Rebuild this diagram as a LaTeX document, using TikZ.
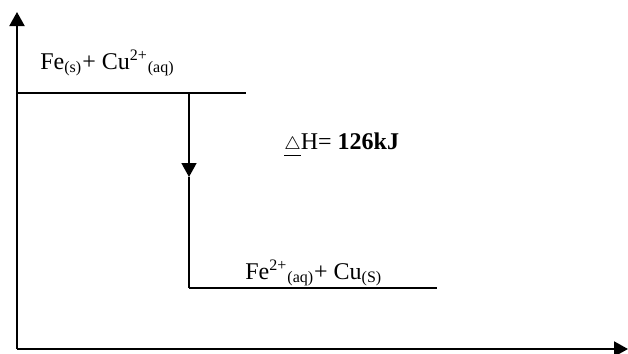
\documentclass[tikz,border=0pt]{standalone}
\usepackage{fontspec}
\setmainfont{Liberation Serif}
\usetikzlibrary{arrows.meta}
\begin{document}
\begin{tikzpicture}[
  x=0.5pt, y=-0.5pt,
  axis/.style={line width=1pt, -{Triangle[length=7pt, width=7.5pt]}},
  level/.style={line width=0.8pt},
  enth/.style={line width=0.8pt},
  label/.style={font=\fontsize{12}{14}\selectfont, inner sep=0pt, anchor=base west}
]
  \useasboundingbox (0,0) rectangle (628,354);

  % Axes
  \coordinate (orig) at (17,349);
  \coordinate (ytop) at (17,12);
  \coordinate (xend) at (628,349);
  \draw[axis] (orig) -- (ytop);
  \draw[axis] (orig) -- (xend);

  % Niveaux d'energie
  \coordinate (r1) at (17,93);
  \coordinate (r2) at (246,93);
  \coordinate (p1) at (189,288);
  \coordinate (p2) at (437,288);
  \draw[level] (r1) -- (r2);
  \draw[level] (p1) -- (p2);

  % Fleche Delta H
  \coordinate (dh1) at (189,93);
  \coordinate (dhm) at (189,177);
  \draw[enth, -{Triangle[length=7pt, width=7.5pt]}] (dh1) -- (dhm);
  \draw[enth] (dhm) -- (p1);

  % Annotations
  \node[label] (reac) at (40,69)
    {Fe\textsubscript{(s)}+ Cu\textsuperscript{2+}\textsubscript{(aq)}};
  \node[label] (prod) at (245,279)
    {Fe\textsuperscript{2+}\textsubscript{(aq)}+ Cu\textsubscript{(S)}};
  \node[label] (dH) at (284,149)
    {\underline{\fontsize{9}{10}\selectfont$\triangle$}H= \textbf{126kJ}};
\end{tikzpicture}
\end{document}
